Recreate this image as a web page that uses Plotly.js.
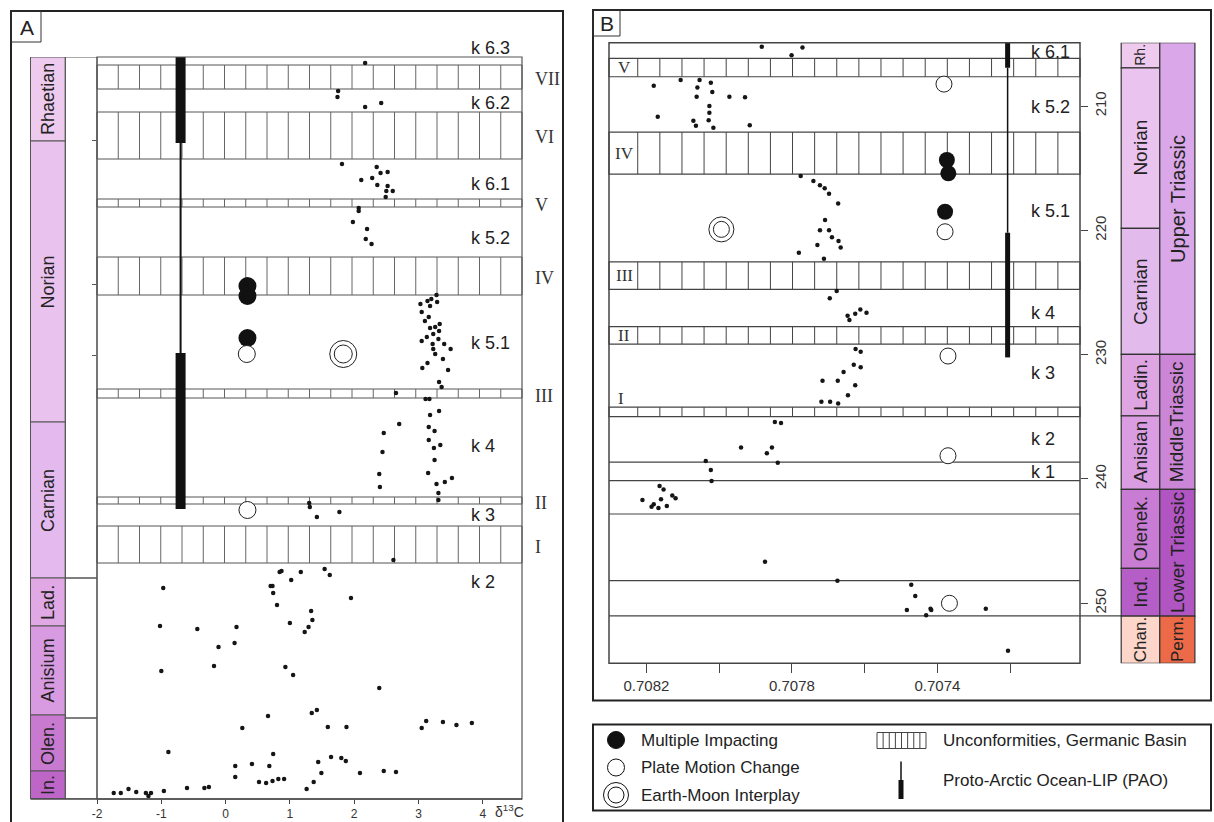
<!DOCTYPE html>
<html><head><meta charset="utf-8">
<script src="https://cdn.plot.ly/plotly-3.0.1.min.js"></script>
<style>html,body{margin:0;padding:0;background:#fff}#chart{width:1214px;height:822px}</style>
</head><body><div id="chart"></div>
<script>
// ---------------- Panel A : delta13C vs relative stratigraphic level ----------------
const dA_x = [2.17,1.75,1.74,2.17,2.42,1.81,2.35,2.41,2.52,2.28,2.11,2.36,2.52,2.50,2.60,2.49,2.07,2.07,1.98,2.20,2.18,2.27,
 3.28,3.20,3.14,3.29,3.03,3.18,3.05,3.16,3.10,3.33,3.18,3.26,3.32,3.23,3.13,3.05,3.31,3.22,3.40,3.23,3.50,3.26,3.38,3.14,3.06,3.46,3.32,3.36,2.65,3.11,3.17,3.32,3.18,2.70,3.16,3.25,2.46,3.16,3.34,3.24,2.44,3.25,2.39,3.15,3.52,3.41,3.28,2.40,3.31,3.31,1.30,1.31,1.77,1.42,
 2.61,0.87,0.84,1.17,1.54,1.62,1.02,-0.97,0.70,0.73,0.74,1.95,0.80,1.33,1.35,-1.02,-0.44,0.17,1.00,1.29,1.23,-0.11,0.14,-0.18,-1.00,0.93,1.05,2.39,0.66,1.34,1.42,0.26,1.59,1.88,3.05,3.12,3.38,3.59,3.83,-0.89,0.74,0.15,0.41,0.68,1.44,1.64,1.80,1.87,0.15,0.52,0.63,0.73,0.82,0.91,1.37,1.49,2.09,2.46,2.65,1.26,-1.74,-1.63,-1.51,-1.39,-1.24,-1.20,-1.16,-0.96,-0.60,-0.33,-0.26];
const dA_y = [737,709,703,693,697,636,633,627,628,622,620,615,614,609,609,603,592,589,578,571,561,556,
 505,501,499,498,496,494,488,483,479,476,472,473,469,466,463,459,461,456,456,451,451,446,441,437,432,430,418,413,407,401,401,389,385,376,373,369,367,360,355,352,348,340,326,327,322,318,316,313,307,300,297,293,288,283,
 240,229,228,228,231,225,220,212,214,214,207,202,195,189,180,174,171,173,177,173,168,153,157,134,129,133,125,112,84,87,90,72,73,73,72,79,78,75,77,48,46,34,36,34,38,43,42,39,23,18,17,19,21,21,18,27,27,29,28,11,7,7,11,8,7,4,7,9,12,12,13];
const impactA_x = [0.34,0.34,0.34,0.34], impactA_y = [746,514,504,462];
const plateA_x = [0.33,0.34], plateA_y = [446,290];
const moonA_x = [1.83], moonA_y = [446];
const paoA_x = -0.70;
const paoA_thickTop = [743,447], paoA_thickBot = [657,291];
const paoA_thinTop = 657, paoA_thinBot = 447;
const hatchA_top = [735,688,601,543,411,303,274];
const hatchA_bot = [711,641,593,505,402,296,237];
const hatchA_names = ['VII','VI','V','IV','III','II','I'];
const unitsA_names = ['k 6.3','k 6.2','k 6.1','k 5.2','k 5.1','k 4','k 3','k 2'];
const unitsA_y = [752,697,616,562,457,354,285,218];
const stagesA_names = ['Rhaetian','Norian','Carnian','Lad.','Anisium','Olen.','In.'];
const stagesA_bounds = [743,659,378,222,174,85,29,1];
const stagesA_colors = ['#EECBEE','#E9C2ED','#E3B9EE','#E0A8E4','#D89AE0','#C87AD0','#BD66C7'];
const whiteA_bounds = [743,222,82,1];
const ticksA = [-2,-1,0,1,2,3,4];
const ticksA_text = ['-2','-1','0','1','2','3','4'];
const levelTicksA = [660,516,445];

// ---------------- Panel B : 87Sr/86Sr vs age (Ma) ----------------
const dB_x = [0.707883,0.707771,0.707801,0.708180,0.708106,0.708054,0.708023,0.708060,0.708019,0.708062,0.707972,0.707929,0.708169,0.708027,0.708027,0.708029,0.708071,0.708064,0.708016,0.707916,
 0.707776,0.707741,0.707723,0.707710,0.707698,0.707673,0.707709,0.707723,0.707698,0.707690,0.707730,0.707672,0.707666,0.707781,0.707712,
 0.707677,0.707696,0.707647,0.707642,0.707626,0.707612,0.707595,0.707625,0.707611,0.707630,0.707611,0.707658,0.707716,0.707674,0.707626,0.707646,0.707719,0.707695,0.707673,
 0.707847,0.707830,0.707940,0.707855,0.707869,0.707839,0.708037,0.708023,0.708021,0.708164,0.708153,0.708129,0.708120,0.708211,0.708160,0.708180,0.708186,0.708167,0.708144,
 0.707874,0.707675,0.707472,0.707461,0.707484,0.707419,0.707417,0.707431,0.707267,0.707206];
const dB_y = [205.23,205.28,205.90,208.37,207.91,207.91,208.13,208.50,208.87,209.25,209.25,209.28,210.86,210.00,210.54,211.13,211.18,211.58,211.75,211.55,
 215.63,216.03,216.36,216.62,217.06,217.83,219.17,219.98,219.98,220.56,221.18,220.86,221.37,221.80,222.28,
 224.88,225.47,226.87,227.22,226.71,226.36,226.63,229.55,229.77,230.81,231.02,231.40,232.10,232.10,232.45,233.27,233.79,233.79,233.92,
 235.42,235.50,237.46,237.46,237.94,238.70,238.56,239.28,240.17,240.57,240.84,241.32,241.56,241.70,241.64,242.04,242.24,242.34,242.18,
 246.66,248.19,248.51,249.42,250.55,250.44,250.55,250.97,250.44,253.82];
const impactB_x = [0.707374,0.707370,0.707379], impactB_y = [214.34,215.41,218.50];
const plateB_x = [0.707382,0.707379,0.707371,0.707371,0.707367], plateB_y = [208.23,220.11,230.11,238.13,250.00];
const moonB_x = [0.707994], moonB_y = [219.92];
const paoB_x = 0.707207;
const paoB_thickTop = [204.9,220.19], paoB_thickBot = [206.92,230.22];
const paoB_thinTop = 206.92, paoB_thinBot = 220.19;
const hatchB_top = [206.16,212.09,222.53,227.75,234.22];
const hatchB_bot = [207.64,215.47,224.75,229.15,234.98];
const hatchB_names = ['V','IV','III','II'];
const plainB_lines = [238.64,240.14,242.82,248.18,251.02];
const unitsB_names = ['k 6.1','k 5.2','k 5.1','k 4','k 3','k 2','k 1'];
const unitsB_y = [205.63,210.06,218.42,226.68,231.46,236.81,239.44];
const stagesB_names = ['Rh.','Norian','Carnian','Ladin.','Anisian','Olenek.','Ind.','Chan.'];
const stagesB_bounds = [204.9,206.92,219.84,229.98,234.92,240.84,247.19,251.03,254.83];
const stagesB_colors = ['#EECBEE','#EAC3EE','#E3BAEC','#DFA5E3','#DA9DE2','#C97CD3','#B65EC8','#FDD5C9'];
const seriesB_names = ['Upper Triassic','MiddleTriassic','Lower Triassic','Perm.'];
const seriesB_bounds = [204.9,229.98,240.84,251.03,254.83];
const seriesB_colors = ['#DAA8E8','#CB86D7','#B055C2','#EC6A48'];
const ticksB = [0.7082,0.7078,0.7074,0.7070];
const ticksB_text = ['0.7082','0.7078','0.7074','0.7070'];
const minorTicksB = [0.7080,0.7076,0.7072];
const agesB = [210,220,230,240,250];

// ---------------- helpers ----------------
const W = 1214, H = 822;
const px = v => v / W, py = v => 1 - v / H;
const FONT = 'Liberation Sans, Arial, sans-serif';
const SERIF = 'Liberation Serif, Times New Roman, serif';
const shapes = [], ann = [];

function rectP(x0,y0,x1,y1,opt){shapes.push(Object.assign({type:'rect',xref:'paper',yref:'paper',x0:px(x0),x1:px(x1),y0:py(y1),y1:py(y0),line:{color:'#222',width:1}},opt||{}));}
function lineP(x0,y0,x1,y1,w,c){shapes.push({type:'line',xref:'paper',yref:'paper',x0:px(x0),x1:px(x1),y0:py(y0),y1:py(y1),line:{color:c||'#222',width:w||1}});}
function note(o){ann.push(Object.assign({showarrow:false,xanchor:'center',yanchor:'middle',font:{family:FONT,size:18,color:'#222'}},o));}
function text(t,x,y,opt){note(Object.assign({text:t,x:x,y:y,xref:'paper',yref:'paper'},opt||{}));}

// outer frames
rectP(11,11,563,840,{line:{color:'#222',width:2}});
rectP(11,11,41,42,{line:{color:'#333',width:1}});
text('A',px(26.5),py(27),{font:{family:FONT,size:21,color:'#222'}});
rectP(593,10,1211,700.5,{line:{color:'#222',width:2}});
rectP(593,10,620,36,{line:{color:'#333',width:1}});
text('B',px(606.5),py(23.5),{font:{family:FONT,size:21,color:'#222'}});

// ---- Panel A stage column
const stAx0 = 30.5, stAx1 = 65.3, whAx1 = 97;
for (let i=0;i<stagesA_names.length;i++){
  shapes.push({type:'rect',xref:'paper',yref:'y',x0:px(stAx0),x1:px(stAx1),y0:stagesA_bounds[i+1],y1:stagesA_bounds[i],fillcolor:stagesA_colors[i],line:{color:'#555',width:1},layer:'below'});
  note({text:stagesA_names[i],xref:'paper',yref:'y',x:px((stAx0+stAx1)/2),y:(stagesA_bounds[i]+stagesA_bounds[i+1])/2,textangle:-90});
}
for (let i=0;i<whiteA_bounds.length-1;i++){
  shapes.push({type:'rect',xref:'paper',yref:'y',x0:px(stAx1),x1:px(whAx1),y0:whiteA_bounds[i+1],y1:whiteA_bounds[i],fillcolor:'rgba(0,0,0,0)',line:{color:'#555',width:1},layer:'below'});
}
// ---- Panel A hatch bands
const nCellA = 20, stepA = (4.61 - (-2)) / nCellA;
for (let i=0;i<hatchA_top.length;i++){
  shapes.push({type:'rect',xref:'x domain',yref:'y',x0:0,x1:1,y0:hatchA_bot[i],y1:hatchA_top[i],line:{color:'#555',width:1},layer:'below'});
  for (let k=1;k<nCellA;k++){
    const xv = -2 + k*stepA;
    shapes.push({type:'line',xref:'x',yref:'y',x0:xv,x1:xv,y0:hatchA_bot[i],y1:hatchA_top[i],line:{color:'#666',width:1},layer:'below'});
  }
  note({text:hatchA_names[i],xref:'paper',yref:'y',x:px(533),xanchor:'left',y:(hatchA_top[i]+hatchA_bot[i])/2 - 2,font:{family:SERIF,size:18,color:'#333'}});
}
// unit labels: the top one sits above the plotted range, so they are placed on the page
const A_yTopPx = 57, A_yBotPx = 799, A_lvlTop = 743, A_lvlBot = 1;
const lvlToPaper = v => py(A_yBotPx - (v - A_lvlBot) * (A_yBotPx - A_yTopPx) / (A_lvlTop - A_lvlBot));
for (let i=0;i<unitsA_names.length;i++){
  note({text:unitsA_names[i],xref:'paper',yref:'paper',x:px(469),xanchor:'left',y:lvlToPaper(unitsA_y[i])});
}
shapes.push({type:'rect',xref:'x domain',yref:'y domain',x0:0,x1:1,y0:0,y1:1,line:{color:'#555',width:1.2},layer:'above'});
lineP(stAx0,799,522,799,1.5,'#444');
text('δ<sup>13</sup>C',px(509),py(811),{font:{family:FONT,size:14,color:'#333'}});

// ---- Panel B hatch bands
const nCellB = 19, x0B = 0.708224, stepB = 0.0000608;
for (let i=0;i<hatchB_top.length;i++){
  shapes.push({type:'rect',xref:'x2 domain',yref:'y2',x0:0,x1:1,y0:hatchB_bot[i],y1:hatchB_top[i],line:{color:'#444',width:1.2},layer:'below'});
  for (let k=0;k<=nCellB;k++){
    const xv = x0B - k*stepB;
    shapes.push({type:'line',xref:'x2',yref:'y2',x0:xv,x1:xv,y0:hatchB_bot[i],y1:hatchB_top[i],line:{color:'#444',width:1},layer:'below'});
  }
  if (i < hatchB_names.length)
    note({text:hatchB_names[i],xref:'paper',yref:'y2',x:px(624),y:(hatchB_top[i]+hatchB_bot[i])/2,font:{family:SERIF,size:17,color:'#333'}});
}
note({text:'I',xref:'paper',yref:'y2',x:px(621),y:233.52,font:{family:SERIF,size:17,color:'#333'}});
for (let i=0;i<plainB_lines.length;i++){
  shapes.push({type:'line',xref:'x2 domain',yref:'y2',x0:0,x1:1,y0:plainB_lines[i],y1:plainB_lines[i],line:{color:'#444',width:1.2},layer:'below'});
}
for (let i=0;i<unitsB_names.length;i++){
  note({text:unitsB_names[i],xref:'paper',yref:'y2',x:px(1029),xanchor:'left',y:unitsB_y[i]});
}
shapes.push({type:'rect',xref:'x2 domain',yref:'y2 domain',x0:0,x1:1,y0:0,y1:1,line:{color:'#444',width:1.5},layer:'above'});
// stage / series columns B
const stBx0 = 1121.2, stBx1 = 1159.8, seBx1 = 1194.9;
const stageFontB = [14,19,19,19,19,19,19,17];
const seriesFontB = [20,19,19,17];
for (let i=0;i<stagesB_names.length;i++){
  shapes.push({type:'rect',xref:'paper',yref:'y2',x0:px(stBx0),x1:px(stBx1),y0:stagesB_bounds[i+1],y1:stagesB_bounds[i],fillcolor:stagesB_colors[i],line:{color:'#333',width:1.2},layer:'below'});
  note({text:stagesB_names[i],xref:'paper',yref:'y2',x:px((stBx0+stBx1)/2),y:(stagesB_bounds[i]+stagesB_bounds[i+1])/2,textangle:-90,font:{family:FONT,size:stageFontB[i],color:'#222'}});
}
for (let i=0;i<seriesB_names.length;i++){
  shapes.push({type:'rect',xref:'paper',yref:'y2',x0:px(stBx1),x1:px(seBx1),y0:seriesB_bounds[i+1],y1:seriesB_bounds[i],fillcolor:seriesB_colors[i],line:{color:'#333',width:1.2},layer:'below'});
  note({text:seriesB_names[i],xref:'paper',yref:'y2',x:px((stBx1+seBx1)/2),y:(seriesB_bounds[i]+seriesB_bounds[i+1])/2,textangle:-90,font:{family:FONT,size:seriesFontB[i],color:'#222'}});
}
shapes.push({type:'line',xref:'paper',yref:'y2',x0:px(1080),x1:px(stBx0),y0:251.02,y1:251.02,line:{color:'#444',width:1.2},layer:'below'});

// ---- Legend (drawn)
rectP(593,724.5,1211,810.5,{line:{color:'#222',width:2}});
function circ(cx,cy,d,fill){shapes.push({type:'circle',xref:'paper',yref:'paper',x0:px(cx-d/2),x1:px(cx+d/2),y0:py(cy+d/2),y1:py(cy-d/2),fillcolor:fill,line:{color:'#111',width:1}});}
circ(616,740,17,'#111');
circ(616,767.5,17,'#fff');
circ(616,795,25,'#fff'); circ(616,795,16,'#fff');
text('Multiple Impacting',px(639),py(740),{xanchor:'left',font:{family:FONT,size:17,color:'#222'}});
text('Plate Motion Change',px(639),py(767.5),{xanchor:'left',font:{family:FONT,size:17,color:'#222'}});
text('Earth-Moon Interplay',px(639),py(795),{xanchor:'left',font:{family:FONT,size:17,color:'#222'}});
rectP(877,732.5,926,748.5,{line:{color:'#444',width:1}});
for (let k=1;k<8;k++){ const xx = 877 + k*49/8; lineP(xx,732.5,xx,748.5,1,'#444'); }
text('Unconformities, Germanic Basin',px(941),py(740),{xanchor:'left',font:{family:FONT,size:17,color:'#222'}});
lineP(901,761.5,901,781,1.5,'#111');
lineP(901,780,901,799,5,'#111');
text('Proto-Arctic Ocean-LIP (PAO)',px(941),py(780),{xanchor:'left',font:{family:FONT,size:17,color:'#222'}});

// ---------------- traces ----------------
const traces = [];
traces.push({x:[paoA_x,paoA_x],y:[paoA_thinTop,paoA_thinBot],mode:'lines',line:{color:'#111',width:2},xaxis:'x',yaxis:'y',cliponaxis:false});
for (let i=0;i<paoA_thickTop.length;i++)
  traces.push({x:[paoA_x,paoA_x],y:[paoA_thickTop[i],paoA_thickBot[i]],mode:'lines',line:{color:'#111',width:10},xaxis:'x',yaxis:'y',cliponaxis:false});
traces.push({x:[paoB_x,paoB_x],y:[paoB_thinTop,paoB_thinBot],mode:'lines',line:{color:'#111',width:1.5},xaxis:'x2',yaxis:'y2',cliponaxis:false});
for (let i=0;i<paoB_thickTop.length;i++)
  traces.push({x:[paoB_x,paoB_x],y:[paoB_thickTop[i],paoB_thickBot[i]],mode:'lines',line:{color:'#111',width:5},xaxis:'x2',yaxis:'y2',cliponaxis:false});
traces.push({x:dA_x,y:dA_y,mode:'markers',marker:{size:4.5,color:'#151515'},xaxis:'x',yaxis:'y',cliponaxis:false});
traces.push({x:dB_x,y:dB_y,mode:'markers',marker:{size:4.5,color:'#151515'},xaxis:'x2',yaxis:'y2',cliponaxis:false});
traces.push({x:impactA_x,y:impactA_y,mode:'markers',marker:{size:18,color:'#111'},xaxis:'x',yaxis:'y',cliponaxis:false});
traces.push({x:plateA_x,y:plateA_y,mode:'markers',marker:{size:17,color:'#fff',line:{color:'#222',width:1}},xaxis:'x',yaxis:'y',cliponaxis:false});
traces.push({x:moonA_x,y:moonA_y,mode:'markers',marker:{size:27,color:'#fff',line:{color:'#222',width:1}},xaxis:'x',yaxis:'y',cliponaxis:false});
traces.push({x:moonA_x,y:moonA_y,mode:'markers',marker:{size:18,color:'#fff',line:{color:'#222',width:1}},xaxis:'x',yaxis:'y',cliponaxis:false});
traces.push({x:impactB_x,y:impactB_y,mode:'markers',marker:{size:16,color:'#111'},xaxis:'x2',yaxis:'y2',cliponaxis:false});
traces.push({x:plateB_x,y:plateB_y,mode:'markers',marker:{size:16,color:'#fff',line:{color:'#222',width:1}},xaxis:'x2',yaxis:'y2',cliponaxis:false});
traces.push({x:moonB_x,y:moonB_y,mode:'markers',marker:{size:25,color:'#fff',line:{color:'#222',width:1}},xaxis:'x2',yaxis:'y2',cliponaxis:false});
traces.push({x:moonB_x,y:moonB_y,mode:'markers',marker:{size:16,color:'#fff',line:{color:'#222',width:1}},xaxis:'x2',yaxis:'y2',cliponaxis:false});

const layout = {
  width:W, height:H, margin:{l:0,r:0,t:0,b:0}, showlegend:false,
  paper_bgcolor:'#fff', plot_bgcolor:'rgba(0,0,0,0)', hovermode:false,
  font:{family:FONT,color:'#333'},
  xaxis:{domain:[px(97),px(522)],range:[-2,4.61],anchor:'y',showgrid:false,zeroline:false,showline:false,
    tickmode:'array',tickvals:ticksA,ticktext:ticksA_text,ticks:'outside',ticklen:4,tickcolor:'#444',tickfont:{size:12,color:'#333'}},
  yaxis:{domain:[py(A_yBotPx),py(A_yTopPx)],range:[A_lvlBot,A_lvlTop],anchor:'x',showgrid:false,zeroline:false,showline:false,
    tickmode:'array',tickvals:levelTicksA,ticks:'outside',ticklen:4,tickcolor:'#555',showticklabels:false},
  xaxis2:{domain:[px(609),px(1080)],range:[0.708303,0.707008],anchor:'y2',showgrid:false,zeroline:false,showline:false,
    tickmode:'array',tickvals:ticksB,ticktext:ticksB_text,ticks:'outside',ticklen:9,tickcolor:'#444',tickfont:{size:15,color:'#333'},
    minor:{tickmode:'array',tickvals:minorTicksB,ticks:'outside',ticklen:9,tickcolor:'#444',showgrid:false}},
  yaxis2:{domain:[py(663.3),py(42.7)],range:[254.83,204.9],anchor:'x2',side:'right',showgrid:false,zeroline:false,showline:false,
    tickmode:'array',tickvals:agesB,ticks:'outside',ticklen:7,tickcolor:'#444',tickangle:-90,tickfont:{size:15,color:'#333'}},
  shapes:shapes, annotations:ann
};
Plotly.newPlot('chart',traces,layout,{displayModeBar:false,staticPlot:true});
</script></body></html>
